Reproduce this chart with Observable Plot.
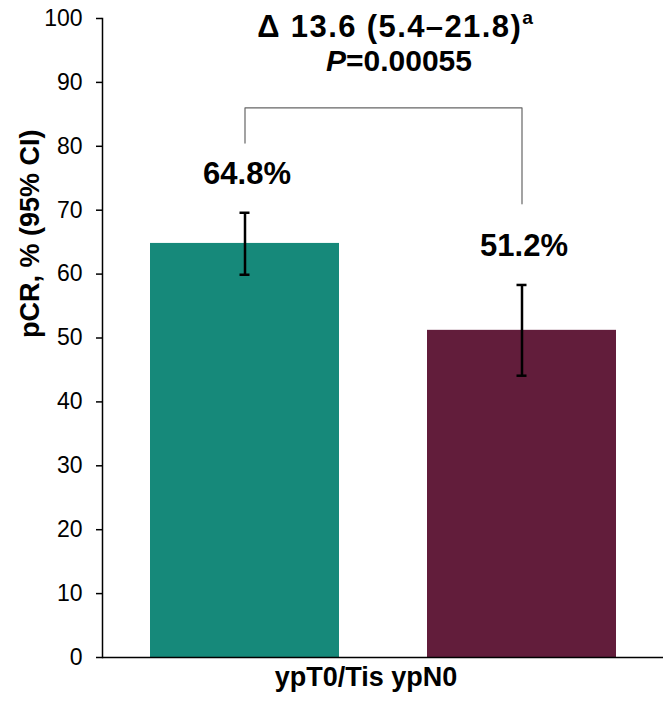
<!DOCTYPE html>
<html>
<head>
<meta charset="utf-8">
<script src="https://cdn.jsdelivr.net/npm/d3@7"></script>
<script src="https://cdn.jsdelivr.net/npm/@observablehq/plot@0.6"></script>
<style>
  html, body { margin: 0; padding: 0; background: white; }
  #wrap { position: relative; width: 667px; height: 707px; font-family: "Liberation Sans", Arial, sans-serif; }
  #title { position: absolute; top: 9px; left: 195px; width: 400px; text-align: center; font-weight: bold; color: #000; }
  #title .l1 { font-size: 31px; line-height: 35px; letter-spacing: 1.4px; white-space: nowrap; }
  #title .l2 { font-size: 30px; line-height: 33px; padding-left: 8px; }
  #title sup { font-size: 0.62em; position: relative; top: -0.05em; vertical-align: top; line-height: 1; letter-spacing: 0; }
</style>
</head>
<body>
<div id="wrap">
  <div id="chart"></div>
  <div id="title"><div class="l1">Δ 13.6 (5.4–21.8)<sup>a</sup></div><div class="l2"><i>P</i>=0.00055</div></div>
</div>
<script>
const categories = ["Group 1", "Group 2"];
const values = [64.8, 51.2];
const ciLow = [59.9, 44.1];
const ciHigh = [69.6, 58.3];
const valueLabels = ["64.8%", "51.2%"];
const colors = ["#16897a", "#621d3b"];
const yTicks = [0, 10, 20, 30, 40, 50, 60, 70, 80, 90, 100];
const yLabel = "pCR, % (95% CI)";
const xLabel = "ypT0/Tis ypN0";
const bracketTop = 86;
const bracketEnds = [80.5, 71];

const data = categories.map((c, i) => ({cat: c, value: values[i], lo: ciLow[i], hi: ciHigh[i], label: valueLabels[i]}));
const bracket = [
  {cat: categories[0], y: bracketEnds[0]},
  {cat: categories[0], y: bracketTop},
  {cat: categories[1], y: bracketTop},
  {cat: categories[1], y: bracketEnds[1]}
];

const chart = Plot.plot({
  width: 667,
  height: 707,
  marginLeft: 102,
  marginRight: 4,
  marginTop: 18,
  marginBottom: 50,
  style: {fontFamily: "'Liberation Sans', Arial, sans-serif", background: "white", color: "black", overflow: "visible"},
  x: {domain: categories, paddingInner: 0.319, paddingOuter: 0.17, axis: null},
  y: {domain: [0, 100], axis: null},
  color: {domain: categories, range: colors},
  marks: [
    Plot.barY(data, {x: "cat", y: "value", fill: "cat"}),
    Plot.ruleX(data, {x: "cat", y1: "lo", y2: "hi", stroke: "black", strokeWidth: 2.5}),
    Plot.tickY(data, {x: "cat", y: "lo", stroke: "black", strokeWidth: 2.5, insetLeft: 89.5, insetRight: 89.5}),
    Plot.tickY(data, {x: "cat", y: "hi", stroke: "black", strokeWidth: 2.5, insetLeft: 89.5, insetRight: 89.5}),
    Plot.text(data, {x: "cat", y: "hi", text: "label", dy: -39, dx: 2, fontSize: 31, fontWeight: "bold", fill: "black"}),
    Plot.line(bracket, {x: "cat", y: "y", stroke: "#666666", strokeWidth: 1.2}),
    Plot.axisY({ticks: yTicks, tickSize: 6, tickPadding: 14, fontSize: 23, label: null, stroke: "black", strokeWidth: 1.5}),
    Plot.ruleY([0], {stroke: "black", strokeWidth: 1.5}),
    Plot.frame({anchor: "left", stroke: "black", strokeWidth: 1.5}),
    Plot.text([yLabel], {frameAnchor: "left", rotate: -90, dx: -72, fontSize: 27, fontWeight: "bold", fill: "black"}),
    Plot.text([xLabel], {frameAnchor: "bottom", dy: 28, dx: -17, fontSize: 27, fontWeight: "bold", fill: "black"})
  ]
});
document.getElementById("chart").appendChild(chart);
</script>
</body>
</html>
